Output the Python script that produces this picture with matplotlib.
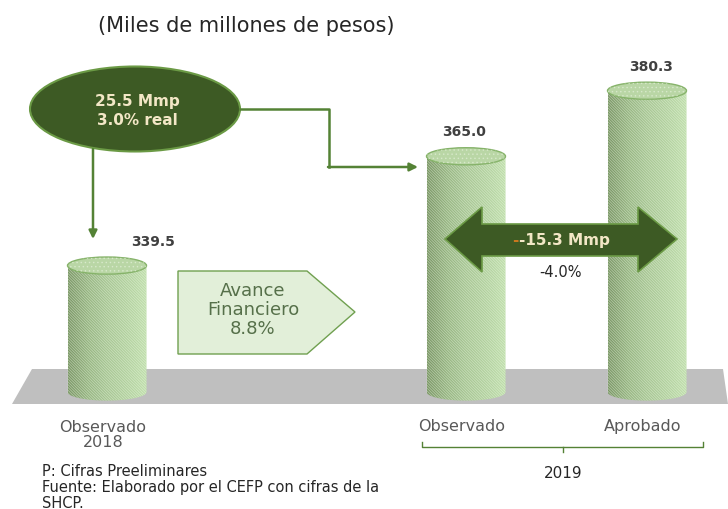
import numpy as np
import matplotlib
matplotlib.use("Agg")
import matplotlib.pyplot as plt
from matplotlib.patches import Polygon, Ellipse, PathPatch
from matplotlib.path import Path
from matplotlib.colors import LinearSegmentedColormap

# data
categories = ["Observado\n2018", "Observado", "Aprobado"]
values = [339.5, 365.0, 380.3]
group_label = "2019"
title = "(Miles de millones de pesos)"
growth_mmp = 25.5
growth_real = 3.0
diff_mmp = -15.3
diff_pct = -4.0
avance = 8.8
notes = ["P: Cifras Preeliminares",
         "Fuente: Elaborado por el CEFP con cifras de la",
         "SHCP."]

# layout (pixels, y from top)
W, H = 728, 510
xpos = [107, 466, 647]
bar_w = 79
base = 310.0
lbl_dx = [46, -2, 4]
cat_y = [435, 427, 427]

DARK = "#3d5a24"
EDGE = "#6b9a45"
LINE = "#548235"
CREAM = "#f3e7c6"
TXT = "#404040"

plt.rcParams["font.family"] = ["DejaVu Sans"]
plt.rcParams["hatch.linewidth"] = 0.6

fig = plt.figure(figsize=(W / 100, H / 100), dpi=100)

def pixel_axes(z):
    a = fig.add_axes([0, 0, 1, 1], zorder=z)
    a.set_xlim(0, W)
    a.set_ylim(H, 0)
    a.axis("off")
    a.patch.set_alpha(0)
    return a

bg = pixel_axes(0)
ax = fig.add_axes([0, 0, 1, 1], zorder=1)
ax.set_xlim(0, W)
ax.set_ylim(282.7, 401.7)
ax.axis("off")
ax.patch.set_alpha(0)
ov = pixel_axes(2)

# floor
bg.add_patch(Polygon([(32, 370), (723, 370), (728, 405), (12, 405)],
                     closed=True, fc="#bfbfbf", ec="none"))

# cylinders
eh = 2.0  # half height of ellipse, value units
cmap = LinearSegmentedColormap.from_list(
    "cyl", ["#789563", "#94b47f", "#a6c692", "#b1d19d", "#bfdfab"])
grad = np.linspace(0, 1, 200).reshape(1, -1)
for x, v in zip(xpos, values):
    l, r = x - bar_w / 2, x + bar_w / 2
    t = np.linspace(np.pi, 2 * np.pi, 40)
    arc = np.column_stack([x + bar_w / 2 * np.cos(t), base + eh * np.sin(t)])
    verts = np.vstack([[l, v], arc, [r, v], [l, v]])
    codes = [Path.MOVETO] + [Path.LINETO] * (len(verts) - 2) + [Path.CLOSEPOLY]
    body = PathPatch(Path(verts, codes), fc="none", ec="none")
    ax.add_patch(body)
    im = ax.imshow(grad, cmap=cmap, extent=[l, r, base - eh, v],
                   aspect="auto", zorder=2)
    im.set_clip_path(body)
    ax.add_patch(PathPatch(Path(verts, codes), fc="none", ec="#f2f9ec",
                           lw=0, hatch="\\\\\\\\\\\\\\\\\\\\\\\\", alpha=0.45,
                           zorder=3))
    ax.add_patch(Ellipse((x, v), bar_w, 2 * eh, fc="#b9d6a5", ec="#86b36a",
                         lw=1, zorder=4))
    ax.add_patch(Ellipse((x, v), bar_w, 2 * eh, fc="none", ec="#e9f4e0",
                         lw=0, hatch="....", alpha=0.5, zorder=5))

for x, v, dx in zip(xpos, values, lbl_dx):
    ax.annotate(f"{v:.1f}", xy=(x, v), xytext=(dx * 0.72, 18),
                textcoords="offset points", ha="center", va="center",
                fontsize=10, fontweight="bold", color=TXT, zorder=6)

# title
ov.text(246, 26, title, ha="center", va="center", fontsize=15, color="#262626")

# growth bubble and arrows
ov.add_patch(Ellipse((135, 110), 210, 85, fc=DARK, ec=EDGE, lw=1.5))
ov.text(137, 111, f"{growth_mmp:.1f} Mmp\n{growth_real:.1f}% real",
        ha="center", va="center", fontsize=11, fontweight="bold",
        color=CREAM, linespacing=1.3)
ov.annotate("", xy=(93, 240), xytext=(93, 150),
            arrowprops=dict(arrowstyle="-|>", color=LINE, lw=1.8,
                            mutation_scale=12, shrinkA=0, shrinkB=0))
ov.plot([240, 329, 329], [110, 110, 168], color=LINE, lw=1.8)
ov.annotate("", xy=(418, 168), xytext=(328, 168),
            arrowprops=dict(arrowstyle="-|>", color=LINE, lw=1.8,
                            mutation_scale=12, shrinkA=0, shrinkB=0))

# difference double arrow
ov.add_patch(Polygon([(445, 240), (482, 208), (482, 225), (638, 225),
                      (638, 208), (677, 240), (638, 273), (638, 257),
                      (482, 257), (482, 273)],
                     closed=True, fc=DARK, ec=EDGE, lw=1.2, zorder=6))
main = ov.text(564, 241, f"{diff_mmp:.1f} Mmp", ha="center", va="center",
               fontsize=11, fontweight="bold", color=CREAM, zorder=7)
ov.annotate("-", xy=(0, 0.5), xycoords=main, ha="right", va="center",
            fontsize=11, fontweight="bold", color="#c8781e", zorder=7)
ov.text(560, 273, f"{diff_pct:.1f}%", ha="center", va="center",
        fontsize=10.5, color="#262626", zorder=7)

# avance financiero
ov.add_patch(Polygon([(178, 272), (307, 272), (355, 313), (307, 355),
                      (178, 355)], closed=True, fc="#e2efd9", ec="#70a050",
                     lw=1))
ov.text(253, 310, f"Avance\nFinanciero\n{avance:.1f}%", ha="center",
        va="center", fontsize=13, color="#56704a", linespacing=1.1)

# category labels
for x, y, c in zip(xpos, cat_y, categories):
    ov.text(x - 4, y, c, ha="center", va="center",
            fontsize=11.5, color="#595959", linespacing=1.05)

# 2019 bracket
ov.plot([422, 422, 703, 703], [443, 448, 448, 443], color=LINE, lw=1)
ov.plot([563, 563], [448, 453], color=LINE, lw=1)
ov.text(563, 474, group_label, ha="center", va="center", fontsize=11,
        color="#262626")

# notes
for i, n in enumerate(notes):
    ov.text(42, 472 + 16 * i, n, ha="left", va="center", fontsize=10.5,
            color="#262626")

fig.savefig("out.png", dpi=100)
